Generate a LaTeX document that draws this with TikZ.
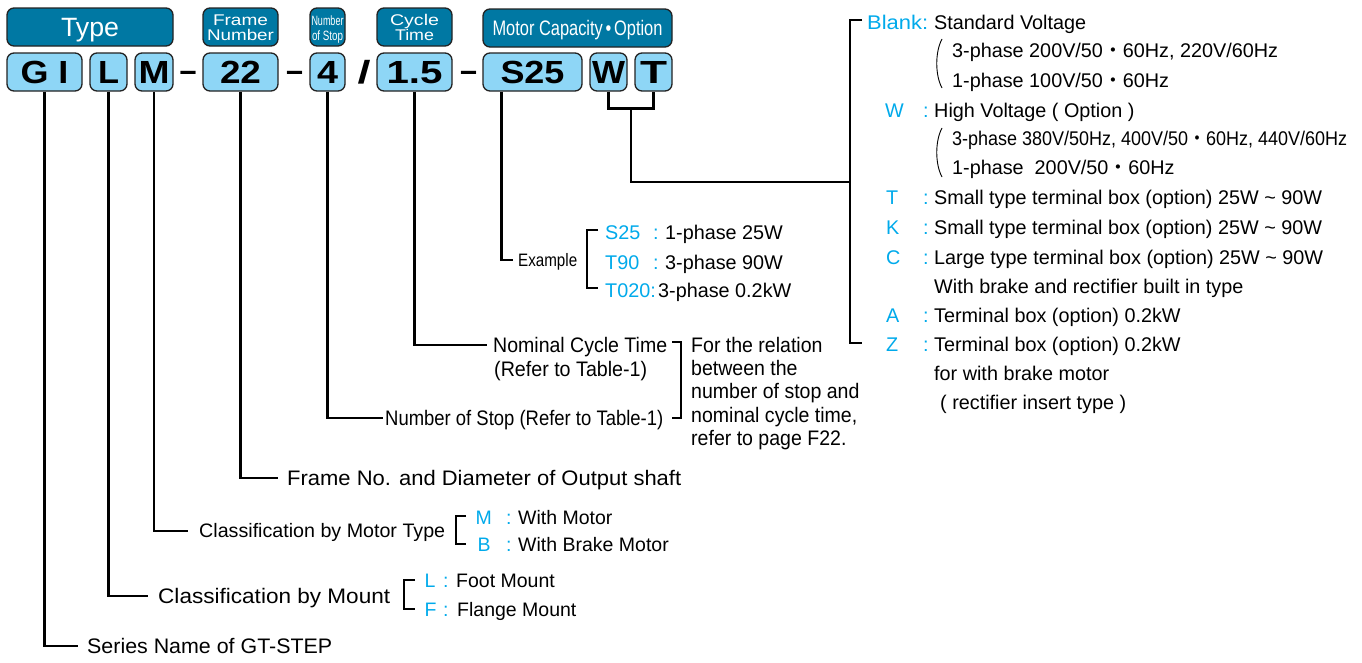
\documentclass[tikz,border=0pt]{standalone}
\usepackage{fontspec}
\setmainfont{Liberation Sans}
\newfontfamily\cjk{Noto Sans CJK JP}
\usepackage{graphicx}
\usetikzlibrary{calc}
\definecolor{hdrfill}{RGB}{0,120,163}
\definecolor{codefill}{RGB}{142,214,246}
\definecolor{boxline}{RGB}{35,35,35}
\definecolor{keyblue}{RGB}{0,170,235}
\newcommand\fw[2]{\resizebox{#1pt}{\height}{#2}}
\newcommand\nw[1]{\scalebox{0.93}[1]{#1}}
\newcommand\md{{\cjk ・}}
\begin{document}
\begin{tikzpicture}[x=1pt,y=-1pt,
  tx/.style={inner sep=0pt, anchor=west, font=\fontsize{#1}{#1}\selectfont, text height={0.716*#1pt}, text depth=0pt},
  htx/.style={tx=#1, anchor=center, text=white},
  key/.style={tx=#1, text=keyblue},
  hdr/.style={draw=boxline, fill=hdrfill, rounded corners=7pt, line width=1.3pt, inner sep=0pt, minimum height=38pt, text=white},
  code/.style={draw=boxline, fill=codefill, rounded corners=7pt, line width=1.3pt, inner sep=0pt, minimum height=38pt, font=\fontsize{32}{32}\selectfont\bfseries, text height=22.9pt, text depth=0pt},
  dsh/.style={inner sep=0pt, font=\fontsize{32}{32}\selectfont\bfseries, text height=22.9pt, text depth=0pt},
  conn/.style={line width=2.4pt, draw=black},
  brk/.style={line width=1.8pt, draw=black},
  paren/.style={line width=0.9pt, draw=black}
]
\path[fill=white, use as bounding box] (0,0) rectangle (1362,662);

% ---------- header boxes ----------
\node[hdr, minimum width=166pt, font=\fontsize{26.5}{26.5}\selectfont, text height=19pt, text depth=0pt] (htype) at (90,27) {\fw{58}{Type}};
\node[hdr, minimum width=75pt] (hframe) at (240.5,27) {};
\node[htx=15.5] (hframe1) at (240.5,19.5) {\fw{55}{Frame}};
\node[htx=15.5] (hframe2) at (240.5,34.5) {\fw{67}{Number}};
\node[hdr, minimum width=35pt] (hstop) at (327.5,27) {};
\node[htx=13.5] (hstop1) at (327.5,20.5) {\fw{32}{Number}};
\node[htx=13.5] (hstop2) at (327.5,35.5) {\fw{31}{of Stop}};
\node[hdr, minimum width=75pt] (hcycle) at (414.5,27) {};
\node[htx=15.5] (hcycle1) at (414.5,19.5) {\fw{49}{Cycle}};
\node[htx=15.5] (hcycle2) at (414.5,35) {\fw{39}{Time}};
\node[hdr, minimum width=189pt, font=\fontsize{21}{21}\selectfont, text height=15pt, text depth=0pt] (hmotor) at (577.5,28) {\fw{170}{Motor Capacity\,•\,Option}};

% ---------- code boxes ----------
\node[code, minimum width=75pt] (gi) at (44.5,72) {\fw{48}{G I}};
\node[code, minimum width=37pt] (l) at (108.5,72) {\fw{21}{L}};
\node[code, minimum width=38pt] (m) at (154,72) {\fw{31}{M}};
\node[dsh, yshift=2pt] (dash1) at (188,72) {\fw{17}{–}};
\node[code, minimum width=75pt] (n22) at (240.5,72) {\fw{41}{22}};
\node[dsh, yshift=2pt] (dash2) at (294.5,72) {\fw{17}{–}};
\node[code, minimum width=35pt] (n4) at (327.5,72) {\fw{21}{4}};
\node[dsh] (slash) at (364,72) {\fw{13}{/}};
\node[code, minimum width=75pt] (n15) at (414.5,72) {\fw{56}{1.5}};
\node[dsh, yshift=2pt] (dash3) at (468.5,72) {\fw{17}{–}};
\node[code, minimum width=99pt] (s25) at (532.5,72) {\fw{64}{S25}};
\node[code, minimum width=37pt] (w) at (608.5,72) {\fw{33}{W}};
\node[code, minimum width=37pt] (t) at (653.5,72) {\fw{27}{T}};

% ---------- left / bottom labels ----------
\node[tx=21] (series) at (87,646) {\fw{245}{Series Name of GT-STEP}};
\node[tx=21] (mount) at (158,596) {\fw{232}{Classification by Mount}};
\node[tx=19.5] (motor) at (199,531) {\fw{246}{Classification by Motor Type}};
\node[tx=21] (frameno) at (287,478) {\fw{394}{Frame No. and Diameter of Output shaft}};
\node[tx=21] (numstop) at (385,418) {\fw{278}{Number of Stop (Refer to Table-1)}};
\node[tx=21] (nominal) at (493,345) {\fw{174}{Nominal Cycle Time}};
\node[tx=21] (refer) at (494,369) {\fw{153}{(Refer to Table-1)}};
\node[tx=18] (example) at (518,260) {\fw{59}{Example}};
\node[anchor=north west, inner sep=0pt, align=left, font=\fontsize{21}{23.2}\selectfont] (note) at (691,337)
  {\nw{For the relation}\\\nw{between the}\\\nw{number of stop and}\\\nw{nominal cycle time,}\\\nw{refer to page F22.}};

% ---------- connectors ----------
\draw[conn] (gi.south) |- ([xshift=-9pt]series.west);
\draw[conn] (l.south) |- ([xshift=-10pt]mount.west);
\draw[conn] (m.south) |- ([xshift=-11pt]motor.west);
\draw[conn] (n22.south) |- ([xshift=-9pt]frameno.west);
\draw[conn] (n4.south) |- ([xshift=-2pt]numstop.west);
\draw[conn] (n15.south) |- ([xshift=-6pt]nominal.west);
\draw[conn] ([xshift=19pt]s25.south west) |- ([xshift=-5pt]example.west);
\draw[conn] (w.south) -- ++(0,17) -| (t.south);
\coordinate (wtj) at ($(w.south)!0.5!(t.south)+(0,17)$);
\coordinate (bigj) at (850,182);
\draw[conn] (wtj) |- (bigj);

% ---------- brackets ----------
\draw[conn] (862,20) -- (850,20) -- (850,343) -- (862,343);
\draw[brk] (598,230) -- (587,230) -- (587,288) -- (598,288);
\draw[brk] (466,516) -- (456,516) -- (456,544) -- (466,544);
\draw[brk] (415,580) -- (404,580) -- (404,609) -- (415,609);
\draw[brk] (672,342) -- (681,342) -- (681,418) -- (672,418);

% ---------- example ----------
\node[key=19.8] (ex1k) at (605,232) {S25};
\node[key=19.8] (ex1c) at (653,232) {:};
\node[tx=19.8] (ex1v) at (665,232) {1-phase 25W};
\node[key=19.8] (ex2k) at (605,262) {T90};
\node[key=19.8] (ex2c) at (653,262) {:};
\node[tx=19.8] (ex2v) at (665,262) {3-phase 90W};
\node[key=19.8] (ex3k) at (605,290) {T020:};
\node[tx=19.8] (ex3v) at (658,290) {3-phase 0.2kW};

% ---------- motor type / mount ----------
\node[key=19.5] (mk) at (475.5,518) {M};
\node[key=19.5] (mc) at (506,518) {:};
\node[tx=19.5] (mv) at (518,518) {With Motor};
\node[key=19.5] (bk) at (477.5,545) {B};
\node[key=19.5] (bc) at (506,545) {:};
\node[tx=19.5] (bv) at (518,545) {With Brake Motor};
\node[key=19.5] (lk) at (424.5,581) {L};
\node[key=19.5] (lc) at (443,581) {:};
\node[tx=19.5] (lv) at (456,581) {Foot Mount};
\node[key=19.5] (fk) at (424.5,610) {F};
\node[key=19.5] (fc) at (443,610) {:};
\node[tx=19.5] (fv) at (457,610) {Flange Mount};

% ---------- right column ----------
\node[key=19.8] (kblank) at (867,22) {\fw{61}{Blank:}};
\node[tx=19.8] (vblank) at (934,22) {Standard Voltage};
\draw[paren] (942,39) .. controls (935,52) and (935,75) .. (942,88);
\node[tx=19.8] (b1) at (952,50) {3-phase 200V/50\md60Hz, 220V/60Hz};
\node[tx=19.8] (b2) at (952,80) {1-phase 100V/50\md60Hz};
\node[key=19.8] (kw) at (885,110) {W};
\node[key=19.8] (cw) at (923,110) {:};
\node[tx=19.8] (vw) at (934,110) {High Voltage ( Option )};
\draw[paren] (942,128) .. controls (935,141) and (935,164) .. (942,177);
\node[tx=19.8] (w1) at (952,138) {\fw{395}{3-phase 380V/50Hz, 400V/50\md60Hz, 440V/60Hz}};
\node[tx=19.8] (w2) at (952,167) {1-phase\ \ 200V/50\md60Hz};
\node[key=19.8] (kt) at (886,197) {T};
\node[key=19.8] (ct) at (923,197) {:};
\node[tx=19.8] (vt) at (934,197) {Small type terminal box (option) 25W \textasciitilde{} 90W};
\node[key=19.8] (kk) at (886,227) {K};
\node[key=19.8] (ck) at (923,227) {:};
\node[tx=19.8] (vk) at (934,227) {Small type terminal box (option) 25W \textasciitilde{} 90W};
\node[key=19.8] (kc) at (886,257) {C};
\node[key=19.8] (cc) at (923,257) {:};
\node[tx=19.8] (vc) at (934,257) {Large type terminal box (option) 25W \textasciitilde{} 90W};
\node[tx=19.8] (vc2) at (934,286) {With brake and rectifier built in type};
\node[key=19.8] (ka) at (886,315) {A};
\node[key=19.8] (ca) at (923,315) {:};
\node[tx=19.8] (va) at (934,315) {Terminal box (option) 0.2kW};
\node[key=19.8] (kz) at (886,344) {Z};
\node[key=19.8] (cz) at (923,344) {:};
\node[tx=19.8] (vz) at (934,344) {Terminal box (option) 0.2kW};
\node[tx=19.8] (vz2) at (934,373) {for with brake motor};
\node[tx=19.8] (vz3) at (940,402) {( rectifier insert type )};
\end{tikzpicture}
\end{document}
